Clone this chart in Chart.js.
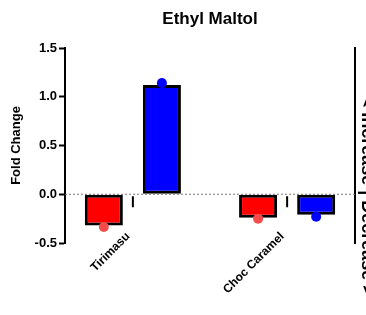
<!DOCTYPE html>
<html>
<head>
<meta charset="utf-8">
<script src="https://cdn.jsdelivr.net/npm/chart.js@4.4.0/dist/chart.umd.min.js"></script>
<style>
    html, body { margin: 0; padding: 0; background: #fff; }
    #wrap { width: 366px; height: 315px; }
</style>
</head>
<body>
<div id="wrap"><canvas id="foldChart" width="366" height="315"></canvas></div>
<script>
// Ethyl Maltol fold change

const categories = ['Tirimasu', 'Choc Caramel'];
const redBars = [-0.32, -0.24];
const blueBars = [1.12, -0.21];
const redPoints = [-0.335, -0.25];
const bluePoints = [1.14, -0.23];
const yTicks = [-0.5, 0, 0.5, 1.0, 1.5];

const FONT = "'Liberation Sans', Arial, sans-serif";

// title, zero line, group ticks, dots, x labels, right side caption
const extrasPlugin = {
    id: 'extras',
    afterDatasetsDraw(chart) {
        const ctx = chart.ctx;
        const area = chart.chartArea;
        const y = chart.scales.y;
        const x = chart.scales.x;
        const zeroY = y.getPixelForValue(0);

        ctx.save();
        // title
        ctx.fillStyle = '#000';
        ctx.font = 'bold 17px ' + FONT;
        ctx.textAlign = 'center';
        ctx.textBaseline = 'middle';
        ctx.fillText('Ethyl Maltol', (area.left + area.right) / 2, 19);

        // dotted zero line
        ctx.strokeStyle = '#777';
        ctx.lineWidth = 1;
        ctx.setLineDash([2, 2]);
        ctx.beginPath();
        ctx.moveTo(area.left, zeroY);
        ctx.lineTo(area.right, zeroY);
        ctx.stroke();
        ctx.setLineDash([]);

        // tick under zero at each group + rotated label
        ctx.strokeStyle = '#000';
        ctx.lineWidth = 2;
        ctx.font = 'bold 12px ' + FONT;
        ctx.textAlign = 'right';
        ctx.textBaseline = 'top';
        categories.forEach((c, i) => {
            const px = x.getPixelForValue(i);
            ctx.beginPath();
            ctx.moveTo(px, zeroY + 2);
            ctx.lineTo(px, zeroY + 13);
            ctx.stroke();

            ctx.save();
            ctx.translate(px - 9, zeroY + 36);
            ctx.rotate(-Math.PI / 4);
            ctx.fillText(c, 0, 0);
            ctx.restore();
        });

        // replicate dots
        const drawDots = (metaIndex, values, color) => {
            const meta = chart.getDatasetMeta(metaIndex);
            ctx.fillStyle = color;
            meta.data.forEach((bar, i) => {
                ctx.beginPath();
                ctx.arc(bar.x, y.getPixelForValue(values[i]), 5, 0, Math.PI * 2);
                ctx.fill();
            });
        };
        drawDots(0, redPoints, '#f54b4b');
        drawDots(1, bluePoints, '#0000ff');

        // right side caption, partly off canvas
        ctx.translate(area.right + 7, zeroY + 2);
        ctx.rotate(Math.PI / 2);
        ctx.font = 'bold 18px ' + FONT;
        ctx.fillStyle = '#000';
        ctx.textAlign = 'center';
        ctx.textBaseline = 'alphabetic';
        ctx.fillText('< Increase | Decrease >', 0, 0);
        ctx.restore();
    }
};

new Chart(document.getElementById('foldChart'), {
    type: 'bar',
    data: {
        labels: categories,
        datasets: [{
            label: 'A',
            data: redBars,
            backgroundColor: '#ff0000',
            borderColor: '#000',
            borderWidth: 3,
            borderSkipped: false,
            categoryPercentage: 0.753,
            barPercentage: 0.655
        }, {
            label: 'B',
            data: blueBars,
            backgroundColor: '#0000ff',
            borderColor: '#000',
            borderWidth: 3,
            borderSkipped: false,
            categoryPercentage: 0.753,
            barPercentage: 0.655
        }]
    },
    options: {
        responsive: false,
        animation: false,
        layout: { padding: { top: 48, right: 11 } },
        plugins: {
            legend: { display: false },
            tooltip: { enabled: false },
            title: { display: false }
        },
        scales: {
            x: {
                grid: { display: false },
                border: { display: false },
                ticks: { display: false },
                // groups sit a bit closer to the edges than the default half-slot offset
                afterBuildTicks(scale) {
                    scale._startValue = -0.44;
                    scale._valueRange = categories.length - 1 + 0.88;
                },
                afterFit(scale) { scale.height = 72; }
            },
            y: {
                min: -0.5,
                max: 1.5,
                afterBuildTicks(scale) {
                    scale.ticks = yTicks.map(v => ({ value: v }));
                },
                grid: {
                    drawOnChartArea: false,
                    tickLength: 6,
                    tickWidth: 2,
                    tickColor: '#000'
                },
                border: { color: '#000', width: 2 },
                ticks: {
                    color: '#000',
                    padding: 2,
                    font: { family: FONT, size: 13, weight: 'bold' },
                    callback: v => v.toFixed(1)
                },
                title: {
                    display: true,
                    text: 'Fold Change',
                    color: '#000',
                    font: { family: FONT, size: 13, weight: 'bold' },
                    padding: { top: 9, bottom: 0 }
                },
                afterFit(scale) { scale.width = 65; }
            },
            y2: {
                position: 'right',
                min: -0.5,
                max: 1.5,
                grid: { drawOnChartArea: false, drawTicks: false },
                border: { color: '#000', width: 2 },
                ticks: { display: false },
                afterFit(scale) { scale.width = 0; }
            }
        }
    },
    plugins: [extrasPlugin]
});
</script>
</body>
</html>
